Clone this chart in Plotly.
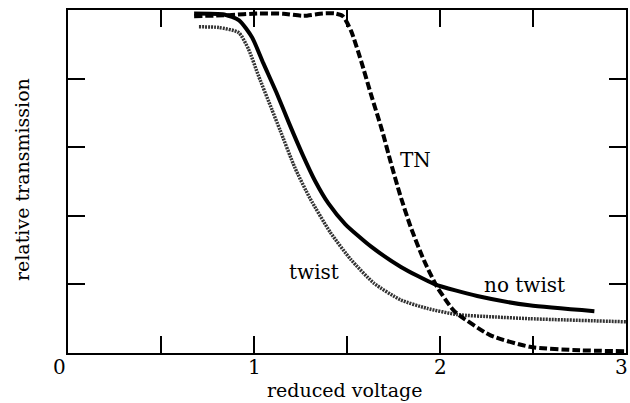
import plotly.graph_objects as go

# no twist (solid)
nt_x = [0.678, 0.84, 0.92, 0.99, 1.05, 1.12, 1.19, 1.26, 1.33, 1.40, 1.49, 1.63, 1.79, 1.97, 2.20, 2.48, 2.83]
nt_y = [0.990, 0.987, 0.970, 0.920, 0.845, 0.760, 0.668, 0.580, 0.500, 0.436, 0.376, 0.310, 0.251, 0.201, 0.166, 0.139, 0.122]

# twist (dotted)
tw_x = [0.704, 0.811, 0.918, 0.971, 1.025, 1.096, 1.14, 1.22, 1.30, 1.41, 1.52, 1.646, 1.788, 1.931, 2.092, 2.30, 2.481, 3.0]
tw_y = [0.951, 0.949, 0.934, 0.885, 0.807, 0.710, 0.650, 0.540, 0.452, 0.352, 0.273, 0.203, 0.155, 0.130, 0.112, 0.105, 0.100, 0.091]

# TN (dashed)
tn_x = [0.678, 0.864, 1.025, 1.158, 1.265, 1.371, 1.435, 1.478, 1.522, 1.576, 1.629, 1.688, 1.735, 1.786, 1.842, 1.913, 1.984, 2.064, 2.092, 2.269, 2.483, 2.750, 3.0]
tn_y = [0.982, 0.985, 0.990, 0.989, 0.983, 0.990, 0.990, 0.982, 0.939, 0.851, 0.754, 0.650, 0.556, 0.460, 0.368, 0.271, 0.193, 0.130, 0.115, 0.052, 0.018, 0.008, 0.005]

x_ticks = [0, 0.5, 1, 1.5, 2, 2.5, 3]
x_label_vals = [0, 1, 2, 3]
x_label_text = ["0", "1", "2", "3"]
y_ticks = [0, 0.2, 0.4, 0.6, 0.8, 1.0]

labels = [("TN", 1.869, 0.563), ("twist", 1.323, 0.236), ("no twist", 2.453, 0.198)]

FONT = "DejaVu Serif"
label_shift = {0: -9, 3: -5}

fig = go.Figure()
fig.add_trace(go.Scatter(x=tw_x, y=tw_y, mode="lines",
                         line=dict(color="#333333", width=3.5, dash="2px,1px", shape="spline", smoothing=0.6)))
fig.add_trace(go.Scatter(x=nt_x, y=nt_y, mode="lines",
                         line=dict(color="black", width=4, shape="spline", smoothing=0.6)))
fig.add_trace(go.Scatter(x=tn_x, y=tn_y, mode="lines",
                         line=dict(color="black", width=4, dash="8px,3px", shape="spline", smoothing=0.6)))

for t, x, y in labels:
    fig.add_annotation(x=x, y=y, text=t, showarrow=False, xref="x", yref="y",
                       xanchor="center", yanchor="middle",
                       font=dict(family=FONT, size=20, color="black"))

for v, t in zip(x_label_vals, x_label_text):
    fig.add_annotation(x=v, y=-0.042, text=t, showarrow=False, xref="x", yref="paper",
                       xanchor="center", yanchor="middle", xshift=label_shift.get(v, 0),
                       font=dict(family=FONT, size=20, color="black"))

fig.add_annotation(text="reduced voltage", x=0.495, y=-0.109, xref="paper", yref="paper",
                   xanchor="center", yanchor="middle",
                   showarrow=False, font=dict(family=FONT, size=19, color="black"))
fig.add_annotation(text="relative transmission", x=-0.082, y=0.505, xref="paper", yref="paper",
                   xanchor="center", yanchor="middle",
                   showarrow=False, textangle=-90, font=dict(family=FONT, size=19, color="black"))

fig.update_layout(
    width=630, height=403,
    margin=dict(l=68, r=2, t=10, b=50),
    paper_bgcolor="white", plot_bgcolor="white",
    showlegend=False,
    xaxis=dict(range=[0, 3], tickvals=x_ticks, showticklabels=False, ticks="inside", ticklen=17,
               tickwidth=2, tickcolor="black", showline=True, linecolor="black", linewidth=2,
               mirror="ticks", showgrid=False, zeroline=False),
    yaxis=dict(range=[0, 1], tickvals=y_ticks, showticklabels=False, ticks="inside", ticklen=17,
               tickwidth=2, tickcolor="black", showline=True, linecolor="black", linewidth=2,
               mirror="ticks", showgrid=False, zeroline=False),
)

fig.write_html("out.html")
